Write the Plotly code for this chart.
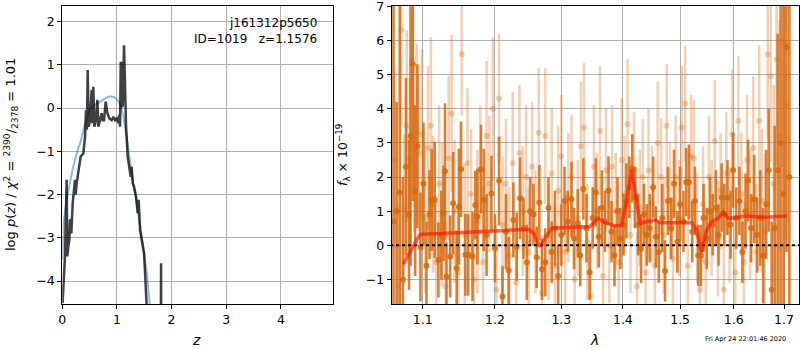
import plotly.graph_objects as go

# ---------------- left panel: p(z) ----------------
z_pz = [0.005, 0.049, 0.080, 0.092, 0.110, 0.129, 0.140, 0.153, 0.165, 0.190, 0.232, 0.245, 0.263, 0.294,
        0.336, 0.385, 0.416, 0.434, 0.450, 0.465, 0.483, 0.507, 0.538, 0.550, 0.568, 0.587, 0.617, 0.642,
        0.660, 0.690, 0.721, 0.739, 0.764, 0.794, 0.825, 0.861, 0.904, 0.935, 0.965, 0.996, 1.026, 1.044,
        1.057, 1.069, 1.078, 1.087, 1.106, 1.130, 1.148, 1.167, 1.197, 1.228, 1.252, 1.270, 1.289, 1.313,
        1.350, 1.380, 1.398, 1.423, 1.454, 1.472, 1.496, 1.515, 1.533, 1.558, 1.600, 1.800, 1.808, 1.812]
logp_pz = [-4.51, -3.43, -1.66, -3.43, -3.20, -3.05, -2.60, -2.59, -2.90, -2.20, -1.66, -2.00, -1.74, -1.51,
           -1.12, -1.05, -0.66, -0.05, -0.50, 0.88, -0.43, -0.28, 0.42, -0.35, 0.49, -0.43, -0.28, 0.19,
           -0.43, -0.28, -0.12, -0.28, -0.28, 0.15, -0.12, -0.24, -0.28, -0.20, -0.28, -0.24, -0.35, -0.16,
           -0.43, 1.07, 0.00, 1.07, 0.03, 1.45, 0.03, -0.43, -1.12, -1.43, -1.59, -1.36, -1.74, -1.82,
           -2.05, -2.43, -2.12, -2.82, -3.05, -3.20, -3.36, -3.82, -4.13, -4.60, -6.00, -6.00, -3.59, -6.00]

z_prior = [0.0, 0.03, 0.08, 0.14, 0.20, 0.275, 0.33, 0.40, 0.45, 0.50, 0.60, 0.70, 0.80, 0.88, 0.95,
           1.02, 1.07, 1.12, 1.17, 1.22, 1.28, 1.35, 1.42, 1.48, 1.55, 1.60, 1.65]
logp_prior = [-3.5, -2.6, -2.1, -1.7, -1.35, -1.0, -0.8, -0.45, -0.2, -0.02, 0.08, 0.15, 0.24, 0.27, 0.25,
              0.18, 0.05, -0.2, -0.6, -1.05, -1.6, -2.1, -2.65, -3.2, -3.85, -4.5, -5.2]

z_ticks = [0, 1, 2, 3, 4]
logp_ticks = [-4, -3, -2, -1, 0, 1, 2]

# ---------------- right panel: spectrum ----------------
lam_dark = [1.062, 1.066, 1.070, 1.074, 1.078, 1.082, 1.084, 1.087, 1.090, 1.093, 1.097, 1.101, 1.105, 1.109,
            1.112, 1.116, 1.121, 1.125, 1.128, 1.130, 1.132, 1.137, 1.141, 1.146, 1.149, 1.152, 1.158, 1.162,
            1.168, 1.172, 1.175, 1.180, 1.184, 1.188, 1.195, 1.200, 1.206, 1.211, 1.216, 1.220, 1.227, 1.232,
            1.237, 1.242, 1.247, 1.252, 1.257, 1.262, 1.266, 1.270, 1.275, 1.280, 1.285, 1.290, 1.295, 1.300,
            1.305, 1.310, 1.316, 1.320, 1.326, 1.330, 1.335, 1.340, 1.345, 1.350, 1.355, 1.360, 1.365, 1.370,
            1.376, 1.381, 1.386, 1.391, 1.396, 1.401, 1.406, 1.411, 1.416, 1.421, 1.426, 1.431, 1.436, 1.441,
            1.446, 1.452, 1.457, 1.462, 1.468, 1.473, 1.478, 1.484, 1.489, 1.495, 1.500, 1.506, 1.511, 1.516,
            1.522, 1.527, 1.533, 1.538, 1.543, 1.549, 1.555, 1.560, 1.566, 1.571, 1.577, 1.582, 1.588, 1.594,
            1.599, 1.605, 1.611, 1.617, 1.623, 1.628, 1.634, 1.640, 1.646, 1.652, 1.658, 1.664, 1.669, 1.675,
            1.681, 1.687, 1.693, 1.699, 1.705, 1.711]
f_dark = [0.70, 1.00, 1.55, -1.00, 2.30, 0.90, 3.20, 5.30, 1.60, 2.90, -0.05, 1.80, -0.60, 0.90,
          1.33, 1.33, -0.43, 0.30, 0.94, 2.16, -0.92, -0.33, 1.23, -0.67, 1.13, 2.23, -0.28, -0.28,
          -0.33, 1.18, 0.84, 2.23, 1.33, 0.30, 1.52, -0.09, 1.89, -1.50, 0.40, -0.74, 0.74, -0.04,
          1.38, 0.50, -0.50, 1.00, 0.90, -0.35, 1.25, -0.70, -0.50, 1.10, -0.20, 0.50, -0.90, 0.30,
          1.30, 0.70, 1.35, 0.20, 0.65, -0.30, 1.65, 0.50, -0.80, 0.80, 1.55, 0.25, 1.10, 0.70,
          1.60, 0.40, -0.30, 1.00, 0.20, 0.60, 1.30, 1.70, 2.25, 1.40, 0.60, -0.10, 0.90, 0.30,
          0.50, 1.70, 0.25, -0.20, 0.80, -0.75, 1.30, 0.50, 1.80, 0.10, 1.20, 0.70, 1.85, 1.85,
          0.40, 1.30, -0.30, -0.30, 0.80, 0.20, 1.00, 0.60, 1.10, 0.30, 1.40, 0.90, 1.40, 0.60,
          2.20, 0.80, 1.30, -0.20, 1.00, 1.90, 0.50, 1.35, 0.30, 0.80, -0.30, 1.20, 2.20, -1.30,
          0.50, 2.20, 3.00, 1.50, 5.80, 2.00]
e_dark = [9.0, 3.2, 7.0, 3.0, 2.6, 2.2, 3.8, 4.0, 2.5, 2.4, 1.6, 1.8, 1.3, 1.3,
          1.5, 1.7, 1.1, 1.3, 1.4, 2.0, 1.0, 1.2, 1.5, 1.1, 1.7, 1.4, 1.2, 1.2,
          1.3, 1.0, 1.4, 1.3, 1.5, 1.2, 1.1, 1.0, 1.3, 0.9, 1.1, 1.0, 1.1, 1.0,
          1.2, 0.9, 1.1, 1.0, 0.9, 0.9, 1.1, 0.9, 1.0, 0.9, 0.9, 1.1, 0.9, 0.9,
          1.0, 0.9, 1.1, 0.9, 1.0, 0.9, 0.9, 1.0, 0.8, 0.9, 1.0, 0.9, 1.1, 0.9,
          1.0, 0.9, 0.9, 1.0, 0.9, 0.9, 1.1, 0.9, 1.0, 0.9, 0.9, 1.0, 0.9, 0.9,
          1.0, 0.9, 0.9, 0.9, 1.0, 0.9, 1.0, 0.9, 1.0, 0.9, 1.1, 0.9, 1.0, 1.1,
          0.9, 1.0, 0.9, 0.9, 1.0, 0.9, 1.0, 0.9, 1.1, 0.9, 1.0, 0.9, 1.1, 1.0,
          1.1, 0.9, 1.0, 0.9, 1.1, 1.2, 1.0, 1.3, 1.1, 1.4, 1.4, 1.6, 1.8, 2.0,
          3.0, 4.0, 5.0, 9.0, 6.0, 9.0]

lam_light = [1.064, 1.068, 1.072, 1.076, 1.079, 1.083, 1.086, 1.089, 1.092, 1.095, 1.099, 1.103, 1.107,
             1.111, 1.114, 1.118, 1.122, 1.126, 1.131, 1.135, 1.139, 1.143, 1.148, 1.153, 1.157, 1.161,
             1.166, 1.170, 1.175, 1.179, 1.183, 1.188, 1.192, 1.197, 1.202, 1.206, 1.211, 1.216, 1.221,
             1.226, 1.231, 1.236, 1.241, 1.246, 1.250, 1.255, 1.260, 1.265, 1.270, 1.275, 1.280, 1.285,
             1.290, 1.295, 1.300, 1.306, 1.311, 1.316, 1.321, 1.326, 1.331, 1.336, 1.341, 1.347, 1.352,
             1.357, 1.362, 1.367, 1.372, 1.377, 1.382, 1.388, 1.393, 1.398, 1.403, 1.408, 1.413, 1.419,
             1.424, 1.429, 1.434, 1.439, 1.444, 1.450, 1.455, 1.460, 1.466, 1.471, 1.476, 1.482, 1.487,
             1.492, 1.498, 1.503, 1.509, 1.514, 1.520, 1.525, 1.531, 1.536, 1.542, 1.547, 1.553, 1.558,
             1.564, 1.570, 1.575, 1.581, 1.586, 1.592, 1.597, 1.603, 1.609, 1.615, 1.620, 1.626, 1.632,
             1.638, 1.644, 1.650, 1.655, 1.661, 1.667, 1.673, 1.679, 1.685, 1.691, 1.697, 1.703]
f_light = [2.50, -1.20, 6.30, 1.05, 3.50, 2.50, 5.40, 2.80, 3.30, 2.70, 3.25, 0.80, 2.85,
           3.50, 1.20, -0.50, 1.80, 0.90, -1.20, 2.55, 3.85, 1.00, -0.80, 5.60, 0.30, 2.40,
           1.50, -1.00, 0.70, 2.20, -0.50, 3.20, 1.80, 4.00, -1.30, 4.30, 0.60, 1.80, -0.30,
           2.40, -1.10, 2.70, 1.00, 2.00, -0.20, 2.30, 0.40, 3.30, -1.40, 3.20, 0.10, 2.10,
           -0.60, 1.60, 2.60, -0.20, 1.40, 2.00, -1.00, 0.80, 2.90, 3.45, 0.10, -1.50, 2.30,
           1.00, 3.35, -0.90, 2.20, 0.00, 2.30, 1.00, -0.50, 2.50, 1.50, 3.55, 0.30, 2.20,
           -1.20, 1.10, 2.00, -0.80, 2.20, 1.20, -0.60, 3.00, 2.00, 0.30, 3.50, 1.30, -0.40,
           2.00, 0.80, 3.45, 4.15, -0.60, 2.60, 2.55, 0.50, -1.30, 1.20, -0.50, 2.00, 0.80,
           3.05, 0.20, 1.60, -1.30, 2.10, 0.60, 3.25, -0.80, 3.65, 1.50, -0.50, 2.50, 0.90,
           2.85, -0.20, 3.65, 1.30, 0.40, 5.60, 4.95, 1.80, 5.45, 3.20, 6.00, 4.10]
e_light = [2.6, 2.4, 2.8, 2.2, 2.8, 2.4, 2.6, 2.4, 2.6, 2.3, 2.5, 2.2, 2.4,
           2.6, 2.0, 1.9, 2.3, 2.1, 1.9, 2.4, 2.3, 2.1, 2.0, 1.8, 2.1, 2.2,
           1.9, 2.0, 2.1, 1.9, 2.2, 2.2, 2.0, 2.1, 1.9, 1.9, 2.0, 1.9, 2.0,
           2.1, 1.8, 2.0, 1.9, 2.1, 1.9, 1.9, 1.8, 1.9, 1.7, 2.0, 1.7, 1.9,
           1.8, 1.9, 1.8, 1.7, 1.9, 1.8, 1.7, 1.7, 1.9, 1.9, 1.7, 1.6, 1.8,
           1.7, 1.9, 1.7, 1.8, 1.7, 1.8, 1.7, 1.6, 1.8, 1.7, 1.9, 1.7, 1.7,
           1.6, 1.7, 1.7, 1.6, 1.8, 1.7, 1.7, 1.8, 1.7, 1.7, 1.8, 1.7, 1.6,
           1.8, 1.7, 1.8, 1.7, 1.7, 1.8, 1.7, 1.6, 1.7, 1.7, 1.6, 1.8, 1.7,
           1.8, 1.7, 1.7, 1.6, 1.8, 1.7, 1.9, 1.7, 1.9, 1.8, 1.8, 1.9, 1.9,
           2.1, 2.0, 2.2, 2.1, 2.3, 2.5, 2.5, 2.9, 3.1, 3.4, 3.7, 3.9]

lam_model = [1.0746, 1.0876, 1.0964, 1.139, 1.2003, 1.2444, 1.2494, 1.257, 1.2667, 1.2744, 1.285, 1.3454,
             1.3508, 1.359, 1.3701, 1.3867, 1.3981, 1.4065, 1.415, 1.4207, 1.4293, 1.441, 1.4555, 1.4643,
             1.4732, 1.5208, 1.53, 1.5393, 1.5488, 1.5581, 1.5706, 1.5801, 1.5897, 1.6026, 1.6221, 1.6616,
             1.7056]
f_model = [-0.55, 0.0, 0.32, 0.36, 0.42, 0.47, 0.47, 0.35, -0.04, 0.2, 0.5, 0.55,
           0.64, 0.79, 0.66, 0.57, 0.59, 1.33, 2.21, 1.52, 0.64, 0.69, 0.74, 0.67,
           0.66, 0.67, 0.44, -0.19, 0.44, 0.69, 0.79, 0.97, 0.79, 0.81, 0.86, 0.82,
           0.86]

lam_ticks = [1.1, 1.2, 1.3, 1.4, 1.5, 1.6, 1.7]
lam_ticktext = ["1.1", "1.2", "1.3", "1.4", "1.5", "1.6", "1.7"]
f_ticks = [-1, 0, 1, 2, 3, 4, 5, 6, 7]

FONT = "DejaVu Sans"
ORANGE_DARK = "rgba(214,104,14,0.85)"
ORANGE_LIGHT = "rgba(214,104,14,0.30)"

fig = go.Figure()

# left panel
fig.add_trace(go.Scatter(x=z_prior, y=logp_prior, mode="lines",
                         line=dict(color="rgba(31,119,180,0.5)", width=2), xaxis="x", yaxis="y",
                         showlegend=False))
fig.add_trace(go.Scatter(x=z_pz, y=logp_pz, mode="lines",
                         line=dict(color="rgba(0,0,0,0.75)", width=2.5), xaxis="x", yaxis="y",
                         showlegend=False))

# right panel
fig.add_trace(go.Scatter(x=lam_light, y=f_light, mode="markers",
                         marker=dict(color=ORANGE_LIGHT, size=6, line=dict(width=0)),
                         error_y=dict(type="data", array=e_light, thickness=2.6, width=0, color=ORANGE_LIGHT),
                         xaxis="x2", yaxis="y2", showlegend=False))
fig.add_trace(go.Scatter(x=lam_dark, y=f_dark, mode="markers",
                         marker=dict(color=ORANGE_DARK, size=6, line=dict(width=0)),
                         error_y=dict(type="data", array=e_dark, thickness=2.6, width=0, color=ORANGE_DARK),
                         xaxis="x2", yaxis="y2", showlegend=False))
fig.add_trace(go.Scatter(x=[1.05, 1.75], y=[0, 0], mode="lines",
                         line=dict(color="black", width=2, dash="dot"),
                         xaxis="x2", yaxis="y2", showlegend=False))
fig.add_trace(go.Scatter(x=lam_model, y=f_model, mode="lines",
                         line=dict(color="rgba(255,20,0,0.65)", width=3.5),
                         xaxis="x2", yaxis="y2", showlegend=False))

axis_common = dict(showgrid=True, gridcolor="#b0b0b0", gridwidth=1, zeroline=False,
                   showline=True, linecolor="black", linewidth=1.2, mirror=True,
                   ticks="outside", ticklen=4, tickwidth=1, tickcolor="black",
                   tickfont=dict(family=FONT, size=12.5, color="black"), automargin=False,
                   ticklabeloverflow="allow")

fig.update_layout(
    width=800, height=350,
    margin=dict(l=0, r=0, t=0, b=0, autoexpand=False),
    paper_bgcolor="white", plot_bgcolor="white",
    font=dict(family=FONT, color="black"),
    xaxis=dict(domain=[62.3 / 800, 333.3 / 800], range=[0, 4.96], tickvals=z_ticks, anchor="y",
               **axis_common),
    yaxis=dict(domain=[46 / 350, 344 / 350], range=[-4.53, 2.36], tickvals=logp_ticks, anchor="x",
               **axis_common),
    xaxis2=dict(domain=[391.7 / 800, 799 / 800], type="log", range=[0.02517, 0.2383],
                tickvals=lam_ticks, ticktext=lam_ticktext, anchor="y2", **axis_common),
    yaxis2=dict(domain=[46 / 350, 344 / 350], range=[-1.72, 7.01], tickvals=f_ticks, anchor="x2",
                **axis_common),
)

ann = [
    dict(x=319 / 800, y=1 - 23 / 350, text="j161312p5650", xanchor="right", yanchor="middle",
         font=dict(size=12, family=FONT)),
    dict(x=319 / 800, y=1 - 39 / 350, text="ID=1019   z=1.1576", xanchor="right", yanchor="middle",
         font=dict(size=12, family=FONT)),
    dict(x=11 / 800, y=1 - 155 / 350, text="log <i>p</i>(<i>z</i>) / <i>χ</i><sup>2</sup> = <sup>2390</sup>/<sub>2378</sub> = 1.01",
         textangle=-90, xanchor="center", yanchor="middle", font=dict(size=13, family=FONT)),
    dict(x=343 / 800, y=1 - 155 / 350, text="<i>f</i><sub>λ</sub> × 10<sup>−19</sup>",
         textangle=-90, xanchor="center", yanchor="middle", font=dict(size=12.5, family=FONT)),
    dict(x=196 / 800, y=1 - 340 / 350, text="<i>z</i>", xanchor="center", yanchor="middle",
         font=dict(size=14, family=FONT)),
    dict(x=594 / 800, y=1 - 340 / 350, text="<i>λ</i>", xanchor="center", yanchor="middle",
         font=dict(size=14, family=FONT)),
    dict(x=745 / 800, y=1 - 339 / 350, text="Fri Apr 24 22:01:46 2020", xanchor="center", yanchor="middle",
         font=dict(size=6.5, family=FONT)),
]
for a in ann:
    a.update(xref="paper", yref="paper", showarrow=False)
fig.update_layout(annotations=ann)

fig.write_html("out.html", post_script="document.body.style.margin='0';",
               config={"displayModeBar": False})
